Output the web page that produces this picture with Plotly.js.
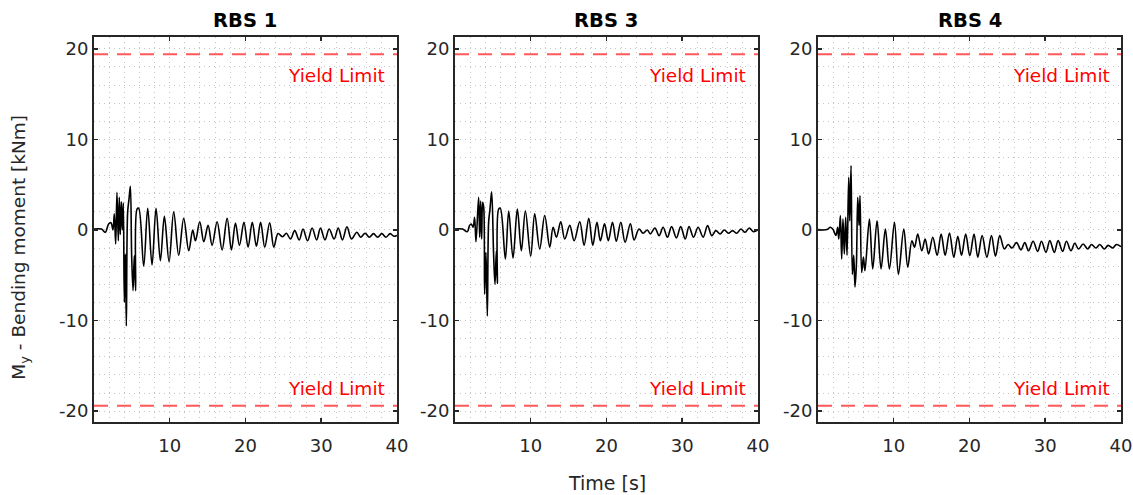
<!DOCTYPE html>
<html>
<head>
<meta charset="utf-8">
<script src="https://cdn.plot.ly/plotly-3.0.1.min.js"></script>
<style>html,body{margin:0;padding:0;background:#fff;}#chart{width:1133px;height:495px;}</style>
</head>
<body>
<div id="chart"></div>
<script>
// ---- Data ----
const panelTitles = ['RBS 1', 'RBS 3', 'RBS 4'];
const yieldLimit = 19.4;
const yieldLabel = 'Yield Limit';
const xTickVals = [10, 20, 30, 40];
const yTickVals = [-20, -10, 0, 10, 20];
const yTickText = ['-20', '-10', '0', '10', '20'];

const t1 = [0, 1.0, 1.5, 1.94, 2.25, 2.51, 2.69, 2.87, 3.04, 3.22, 3.35, 3.48, 3.62, 3.75, 3.88, 4.01, 4.15, 4.28, 4.45, 4.63,
  4.81, 4.98, 5.16, 5.33, 5.51, 5.69, 5.91, 6.57, 7.10, 7.67, 8.20, 8.77, 9.30, 9.92, 10.53, 11.19, 11.85, 12.52, 13.04, 13.40,
  13.97, 14.50, 15.07, 15.60, 16.26, 16.92, 17.58, 18.15, 18.68, 19.21, 19.8, 20.35, 20.9, 21.45, 22.0, 22.55, 23.2, 23.75, 24.3, 24.9,
  25.4, 25.95, 26.5, 27.1, 27.6, 28.2, 28.8, 29.4, 29.9, 30.5, 31.05, 31.7, 32.25, 32.8, 33.4, 34.0, 34.7, 35.2, 35.8, 36.35,
  36.9, 37.45, 38.0, 38.55, 39.1, 39.6, 40];
const m1 = [0.1, 0.1, -0.25, 0.66, 0.8, 0.0, 1.77, -1.55, 4.16, -1.2, 3.6, -0.5, 3.1, 0.0, 3.0, -8.0, -2.65, -10.6, 1.96, 3.4,
  4.83, -2.8, -6.7, -2.84, -6.7, 2.3, 2.4, -4.0, 2.4, -3.87, 2.4, -3.4, 1.5, -3.5, 2.0, -2.8, 1.3, -2.3, 0.0, -1.2,
  0.9, -1.3, 0.5, -1.7, 0.9, -2.2, 1.3, -2.2, 0.77, -1.7, 0.85, -1.9, 0.85, -1.8, 0.85, -1.9, 0.8, -1.9, -0.4, -0.75,
  -0.37, -1.0, -0.07, -1.1, 0.1, -1.2, 0.22, -1.1, 0.2, -1.1, 0.1, -1.0, 0.2, -1.1, 0.35, -1.0, -0.26, -0.8, -0.37, -0.8,
  -0.4, -0.8, -0.4, -0.8, -0.4, -0.7, -0.6];

const t3 = [0, 1.0, 1.63, 1.94, 2.16, 2.4, 2.6, 2.78, 3.13, 3.27, 3.4, 3.53, 3.66, 3.8, 3.92, 4.1, 4.28, 4.45, 4.63, 4.85,
  5.1, 5.29, 5.47, 5.6, 5.77, 5.99, 6.66, 7.1, 7.67, 8.24, 8.77, 9.3, 10.0, 10.53, 11.19, 11.85, 12.52, 12.96, 13.4, 13.97,
  14.5, 15.16, 15.73, 16.48, 17.05, 17.67, 18.2, 18.75, 19.2, 19.75, 20.25, 20.8, 21.3, 21.9, 22.46, 23.16, 23.65, 24.3, 24.84, 25.4,
  25.8, 26.4, 26.95, 27.48, 28.05, 28.6, 29.24, 29.8, 30.4, 30.9, 31.5, 32.1, 32.77, 33.35, 33.9, 34.45, 35.0, 35.55, 36.1, 36.65,
  37.2, 37.75, 38.3, 38.85, 39.4, 40];
const m3 = [0.1, 0.1, -0.2, 0.5, 0.66, 0.3, 1.4, -1.3, 3.6, -0.8, 3.2, -1.0, 3.05, 2.5, -7.1, -2.5, -9.5, 0.84, 2.3, 4.2,
  -2.5, -6.0, -2.3, -5.9, 2.3, 2.4, -3.2, 2.1, -3.1, 2.3, -2.3, 2.1, -2.9, 1.77, -2.1, 1.6, -1.9, 0.3, -0.8, 0.9,
  -1.0, 0.5, -1.2, 0.9, -1.7, 1.3, -1.7, 0.84, -1.2, 0.67, -1.18, 0.85, -1.25, 0.85, -1.36, 0.67, -1.1, 0.11, -0.37, 0.0,
  -0.44, 0.22, -0.63, 0.3, -0.8, 0.37, -0.88, 0.37, -1.0, 0.37, -0.8, 0.3, -0.8, 0.48, -0.63, -0.07, -0.44, 0.0, -0.37, -0.07,
  -0.37, 0.11, -0.26, 0.22, -0.2, 0.0];

const t4 = [0, 1.2, 1.63, 2.0, 2.16, 2.38, 2.6, 2.75, 2.96, 3.13, 3.3, 3.48, 3.66, 3.84, 4.06, 4.2, 4.37, 4.54, 4.72, 4.89,
  5.07, 5.25, 5.42, 5.55, 5.77, 6.0, 6.2, 6.79, 7.23, 7.8, 8.33, 8.9, 9.43, 10.1, 10.62, 11.33, 11.85, 12.4, 12.75, 13.17,
  13.7, 14.15, 14.6, 15.16, 15.73, 16.26, 16.79, 17.36, 17.93, 18.46, 18.95, 19.5, 20.04, 20.6, 21.1, 21.67, 22.3, 22.9, 23.43, 24.0,
  24.6, 25.1, 25.6, 26.2, 26.8, 27.3, 27.8, 28.4, 29.0, 29.5, 30.1, 30.6, 31.2, 31.7, 32.3, 32.8, 33.4, 33.9, 34.4, 35.0,
  35.6, 36.1, 36.7, 37.2, 37.8, 38.3, 38.9, 39.4, 40];
const m4 = [0.04, 0.04, 0.3, 0.04, -0.26, -0.6, 0.3, -1.0, 1.6, -3.2, 1.2, -2.65, 1.4, -2.8, 5.8, 1.0, 7.1, -4.9, -2.8, -6.3,
  -3.9, 3.6, 0.5, 3.8, -4.7, -3.0, -4.5, 1.2, -4.3, 1.0, -4.3, 0.1, -4.3, 0.85, -4.9, 0.1, -4.1, -1.2, -1.9, -0.44,
  -2.3, -1.0, -2.65, -0.8, -2.8, -0.44, -2.8, -0.33, -3.0, -0.7, -2.8, -0.44, -2.84, -0.44, -3.0, -0.63, -3.0, -0.63, -2.9, -0.63,
  -2.1, -1.6, -2.0, -1.4, -2.2, -1.4, -2.3, -1.25, -2.36, -1.25, -2.47, -1.18, -2.47, -1.18, -2.36, -1.25, -2.3, -1.47, -2.1, -1.55,
  -2.1, -1.6, -2.0, -1.6, -2.1, -1.7, -2.0, -1.6, -1.85];

const seriesT = [t1, t3, t4];
const seriesM = [m1, m3, m4];

// ---- Layout helpers ----
const FONT = 'DejaVu Sans';
const INK = '#262626';
const domains = [[0, 0.2950], [0.3515, 0.6465], [0.7050, 1]];
const gridStyle = {gridcolor: '#c4c4c4', griddash: '1px,4px', gridwidth: 1};

function xAxis(i) {
  return Object.assign({
    domain: domains[i], anchor: i === 0 ? 'y' : 'y' + (i + 1),
    range: [0.01, 40], tickmode: 'array', tickvals: xTickVals,
    ticks: 'inside', ticklen: 4, tickwidth: 1.5, tickcolor: INK,
    showline: true, linecolor: INK, linewidth: 2, mirror: 'ticks',
    showgrid: true, zeroline: false, ticklabelstandoff: 6,
    tickfont: {family: FONT, size: 18, color: INK},
    minor: Object.assign({tickmode: 'linear', tick0: 0, dtick: 2, showgrid: true, ticks: ''}, gridStyle)
  }, gridStyle);
}
function yAxis(i) {
  return Object.assign({
    anchor: i === 0 ? 'x' : 'x' + (i + 1),
    range: [-21.2, 21.3], tickmode: 'array', tickvals: yTickVals, ticktext: yTickText,
    ticks: 'inside', ticklen: 4, tickwidth: 1.5, tickcolor: INK,
    showline: true, linecolor: INK, linewidth: 2, mirror: 'ticks',
    showgrid: true, zeroline: false,
    tickfont: {family: FONT, size: 18, color: INK},
    minor: Object.assign({tickmode: 'linear', tick0: 0, dtick: 2, showgrid: true, ticks: ''}, gridStyle)
  }, gridStyle);
}

const traces = [];
const shapes = [];
const annotations = [];
for (let i = 0; i < 3; i++) {
  const xr = i === 0 ? 'x' : 'x' + (i + 1);
  const yr = i === 0 ? 'y' : 'y' + (i + 1);
  traces.push({
    type: 'scatter', mode: 'lines', x: seriesT[i], y: seriesM[i], xaxis: xr, yaxis: yr,
    line: {color: '#000000', width: 1.6, shape: 'spline', smoothing: 1}, hoverinfo: 'skip'
  });
  [yieldLimit, -yieldLimit].forEach(function (v) {
    shapes.push({type: 'line', xref: xr + ' domain', x0: 0, x1: 1, yref: yr, y0: v, y1: v,
      line: {color: 'rgba(255,60,60,0.85)', width: 2, dash: '14px,9px'}, layer: 'above'});
  });
  annotations.push({text: '<b>' + panelTitles[i] + '</b>', xref: xr + ' domain', x: 0.5, yref: 'paper', y: 1,
    yanchor: 'bottom', yshift: 3, showarrow: false, font: {family: FONT, size: 19.5, color: '#000'}});
  annotations.push({text: yieldLabel, xref: xr, x: 38.75, xanchor: 'right', yref: yr, y: yieldLimit - 2.3,
    yanchor: 'middle', showarrow: false, font: {family: FONT, size: 18.5, color: '#ff0000'}});
  annotations.push({text: yieldLabel, xref: xr, x: 38.75, xanchor: 'right', yref: yr, y: -yieldLimit + 1.95,
    yanchor: 'middle', showarrow: false, font: {family: FONT, size: 18.5, color: '#ff0000'}});
}
annotations.push({text: 'M<sub>y</sub> - Bending moment [kNm]', textangle: -90, xref: 'paper', x: -0.072, xanchor: 'center',
  yref: 'paper', y: 0.453, yanchor: 'middle', showarrow: false, font: {family: FONT, size: 18.5, color: INK}});
annotations.push({text: 'Time [s]', xref: 'paper', x: 0.4995, xanchor: 'center', yref: 'paper', y: -0.159,
  yanchor: 'middle', showarrow: false, font: {family: FONT, size: 19, color: INK}});

const layout = {
  width: 1133, height: 495,
  margin: {l: 94, r: 12, t: 37, b: 73, pad: 0},
  paper_bgcolor: '#ffffff', plot_bgcolor: '#ffffff',
  font: {family: FONT, size: 18, color: INK},
  showlegend: false,
  xaxis: xAxis(0), xaxis2: xAxis(1), xaxis3: xAxis(2),
  yaxis: yAxis(0), yaxis2: yAxis(1), yaxis3: yAxis(2),
  shapes: shapes, annotations: annotations
};

Plotly.newPlot('chart', traces, layout, {staticPlot: true, displayModeBar: false});
</script>
</body>
</html>
